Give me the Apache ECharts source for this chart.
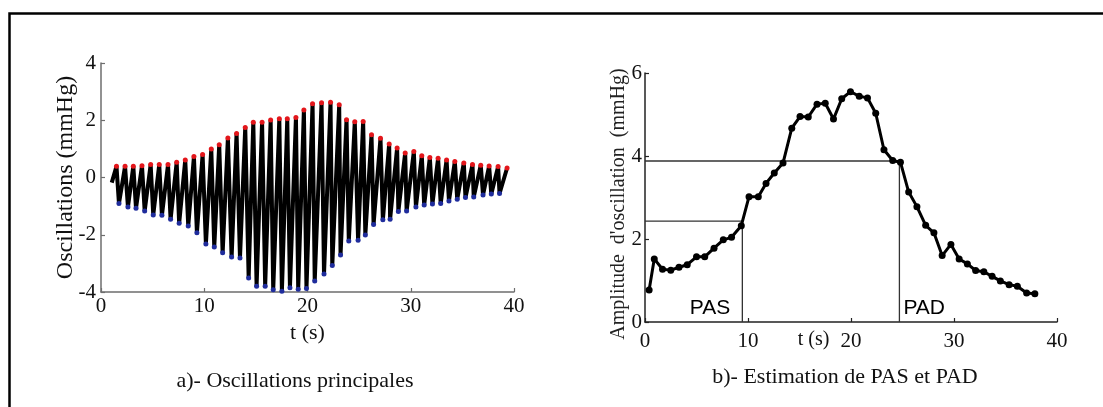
<!DOCTYPE html>
<html><head><meta charset="utf-8">
<script src="https://cdn.jsdelivr.net/npm/echarts@6/dist/echarts.min.js"></script>
<style>html,body{margin:0;padding:0;background:#fff}#c{width:1103px;height:407px}</style>
</head><body><div id="c"></div>
<script>
// ---- a) Oscillations principales ----
const waveStart = [1.04, -0.18];
const peakT = [1.50, 2.33, 3.13, 3.97, 4.81, 5.64, 6.49, 7.33, 8.16, 9.00, 9.84, 10.68, 11.45, 12.29, 13.13, 13.97, 14.75, 15.60, 16.43, 17.27, 18.04, 18.88, 19.65, 20.49, 21.36, 22.23, 23.07, 23.78, 24.58, 25.39, 26.20, 27.07, 27.91, 28.68, 29.46, 30.30, 31.07, 31.85, 32.65, 33.47, 34.27, 35.14, 35.98, 36.78, 37.59, 38.46, 39.33];
const peakV = [0.39, 0.39, 0.39, 0.41, 0.45, 0.45, 0.45, 0.53, 0.61, 0.73, 0.80, 1.00, 1.14, 1.38, 1.54, 1.75, 1.93, 1.93, 2.01, 2.05, 2.05, 2.10, 2.36, 2.58, 2.61, 2.63, 2.54, 2.02, 1.95, 1.96, 1.49, 1.37, 1.17, 1.03, 0.86, 0.91, 0.76, 0.70, 0.67, 0.61, 0.56, 0.51, 0.45, 0.43, 0.40, 0.38, 0.33];
const troughT = [1.74, 2.61, 3.39, 4.23, 5.06, 5.90, 6.74, 7.57, 8.45, 9.29, 10.16, 10.97, 11.78, 12.65, 13.46, 14.30, 15.07, 15.90, 16.68, 17.52, 18.30, 19.10, 19.90, 20.70, 21.60, 22.40, 23.20, 24.00, 24.90, 25.60, 26.40, 27.30, 28.00, 28.80, 29.60, 30.50, 31.30, 32.10, 32.90, 33.70, 34.50, 35.30, 36.10, 37.00, 37.80, 38.60];
const troughV = [-0.91, -1.03, -1.07, -1.17, -1.31, -1.32, -1.46, -1.60, -1.69, -1.93, -2.32, -2.43, -2.63, -2.78, -2.81, -3.51, -3.80, -3.80, -3.92, -3.97, -3.85, -3.90, -3.88, -3.62, -3.37, -3.07, -2.71, -2.22, -2.19, -2.01, -1.64, -1.48, -1.46, -1.19, -1.17, -1.03, -0.96, -0.93, -0.91, -0.82, -0.76, -0.70, -0.68, -0.61, -0.58, -0.56];

// ---- b) Estimation de PAS et PAD ----
const ampT = [0.4, 0.9, 1.7, 2.5, 3.3, 4.1, 5.0, 5.8, 6.7, 7.6, 8.4, 9.35, 10.1, 11.0, 11.75, 12.55, 13.4, 14.25, 15.05, 15.85, 16.7, 17.5, 18.3, 19.1, 19.95, 20.8, 21.6, 22.4, 23.2, 24.05, 24.8, 25.6, 26.4, 27.25, 28.05, 28.85, 29.7, 30.5, 31.3, 32.1, 32.9, 33.7, 34.5, 35.35, 36.15, 37.05, 37.85];
const ampV = [0.77, 1.52, 1.27, 1.25, 1.32, 1.38, 1.57, 1.57, 1.78, 1.98, 2.04, 2.32, 3.02, 3.02, 3.34, 3.59, 3.83, 4.67, 4.95, 4.94, 5.25, 5.27, 4.89, 5.38, 5.55, 5.44, 5.40, 5.03, 4.15, 3.89, 3.85, 3.13, 2.78, 2.33, 2.15, 1.60, 1.87, 1.52, 1.40, 1.24, 1.21, 1.10, 0.99, 0.90, 0.86, 0.70, 0.68];
const pasT = 9.45, pasLevel = 2.43;
const padT = 24.7, padLevel = 3.88;
const xTicks = [0, 10, 20, 30, 40];

const serif = '"Liberation Serif", "Times New Roman", serif';
const sans = '"Liberation Sans", Arial, sans-serif';

const wave = [waveStart];
for (let i = 0; i < peakT.length; i++) {
  wave.push([peakT[i], peakV[i]]);
  if (i < troughT.length) wave.push([troughT[i], troughV[i]]);
}
const peaks = peakT.map((t, i) => [t, peakV[i]]);
const troughs = troughT.map((t, i) => [t, troughV[i]]);
const amp = ampT.map((t, i) => [t, ampV[i]]);

function xAxisCfg(grid, color, margin, name, nameGap, nameStyle) {
  return {
    type: 'value', gridIndex: grid, min: xTicks[0], max: xTicks[xTicks.length - 1], interval: 10,
    axisLine: { show: true, onZero: false, lineStyle: { color: color, width: 1.5 } },
    axisTick: { show: true, inside: true, length: 4, lineStyle: { color: color, width: 1.2 } },
    axisLabel: { fontFamily: serif, fontSize: 21, color: '#111', margin: margin },
    splitLine: { show: false },
    name: name, nameLocation: 'middle', nameGap: nameGap, nameMoveOverlap: false, nameTextStyle: nameStyle
  };
}

const chart = echarts.init(document.getElementById('c'));
chart.setOption({
  animation: false,
  backgroundColor: '#fff',
  grid: [
    { left: 101, top: 63, width: 413, height: 229 },
    { left: 645, top: 73, width: 412, height: 249 }
  ],
  xAxis: [
    xAxisCfg(0, '#6e6e6e', 4, 't (s)', 30, { fontFamily: serif, fontSize: 22, color: '#111' }),
    xAxisCfg(1, '#222', 9, 't (s)', 8, { fontFamily: serif, fontSize: 20, color: '#111', padding: [0, 75, 0, 0] })
  ],
  yAxis: [
    {
      type: 'value', gridIndex: 0, min: -4, max: 4, interval: 2,
      axisLine: { show: true, onZero: false, lineStyle: { color: '#6e6e6e', width: 1.5 } },
      axisTick: { show: true, inside: true, length: 4, lineStyle: { color: '#6e6e6e', width: 1.2 } },
      axisLabel: { fontFamily: serif, fontSize: 21, color: '#111', margin: 5 },
      splitLine: { show: false },
      name: 'Oscillations (mmHg)', nameLocation: 'middle', nameGap: 23, nameMoveOverlap: false,
      nameTextStyle: { fontFamily: serif, fontSize: 24, color: '#111' }
    },
    {
      type: 'value', gridIndex: 1, min: 0, max: 6, interval: 2,
      axisLine: { show: true, onZero: false, lineStyle: { color: '#222', width: 1.5 } },
      axisTick: { show: true, inside: true, length: 4, lineStyle: { color: '#222', width: 1.2 } },
      axisLabel: { fontFamily: serif, fontSize: 21, color: '#111', margin: 3 },
      splitLine: { show: false },
      name: 'Amplitude  d\'oscillation  (mmHg)', nameLocation: 'middle', nameGap: 16, nameMoveOverlap: false,
      nameTextStyle: { fontFamily: serif, fontSize: 20, color: '#222', padding: [0, 13, 0, 0] }
    }
  ],
  series: [
    {
      type: 'line', xAxisIndex: 0, yAxisIndex: 0, data: wave, showSymbol: false,
      lineStyle: { color: '#000', width: 4 }, z: 2
    },
    {
      type: 'scatter', xAxisIndex: 0, yAxisIndex: 0, data: peaks, symbolSize: 5,
      itemStyle: { color: '#e3161b', opacity: 1 }, z: 3
    },
    {
      type: 'scatter', xAxisIndex: 0, yAxisIndex: 0, data: troughs, symbolSize: 5,
      itemStyle: { color: '#1f2c9c', opacity: 1 }, z: 3
    },
    {
      type: 'line', xAxisIndex: 1, yAxisIndex: 1,
      data: [[0, pasLevel], [pasT, pasLevel], [pasT, 0]], showSymbol: false,
      lineStyle: { color: '#333', width: 1.3 }, z: 1
    },
    {
      type: 'line', xAxisIndex: 1, yAxisIndex: 1,
      data: [[0, padLevel], [padT, padLevel], [padT, 0]], showSymbol: false,
      lineStyle: { color: '#333', width: 1.3 }, z: 1
    },
    {
      type: 'line', xAxisIndex: 1, yAxisIndex: 1, data: amp,
      symbol: 'circle', symbolSize: 7, showSymbol: true,
      itemStyle: { color: '#000' }, lineStyle: { color: '#000', width: 3 }, z: 3
    },
    {
      type: 'scatter', xAxisIndex: 1, yAxisIndex: 1, symbolSize: 0, z: 4,
      itemStyle: { opacity: 1 },
      data: [
        { value: [pasT, 0], label: { show: true, formatter: 'PAS', position: 'left', distance: 12, offset: [0, -14], color: '#000' } },
        { value: [padT, 0], label: { show: true, formatter: 'PAD', position: 'right', distance: 4, offset: [0, -14], color: '#000' } }
      ],
      label: { fontFamily: sans, fontSize: 21, color: '#000' }
    }
  ],
  graphic: [
    { type: 'rect', silent: true, shape: { x: 9.5, y: 13.5, width: 1200, height: 600 },
      style: { fill: 'none', stroke: '#000', lineWidth: 2.5 } },
    { type: 'text', x: 295, y: 381, silent: true,
      style: { text: 'a)- Oscillations principales', fontFamily: serif, fontSize: 22, fill: '#111', align: 'center', verticalAlign: 'middle' } },
    { type: 'text', x: 845, y: 377, silent: true,
      style: { text: 'b)- Estimation de PAS et PAD', fontFamily: serif, fontSize: 22, fill: '#111', align: 'center', verticalAlign: 'middle' } }
  ]
});
</script>
</body></html>
